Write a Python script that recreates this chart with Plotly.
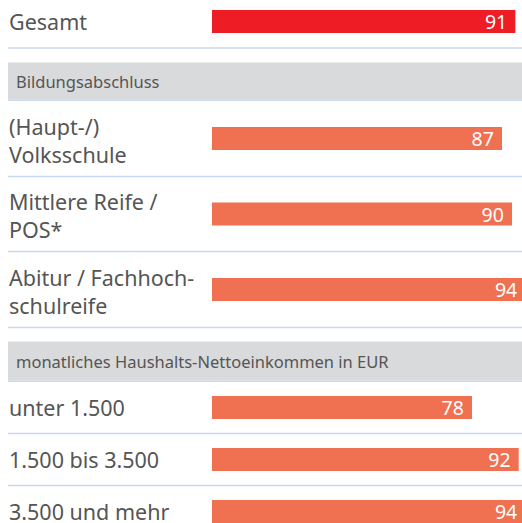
import plotly.graph_objects as go

# ---- data ----
labels_gesamt = ["Gesamt"]
values_gesamt = [91]

header_bildung = "Bildungsabschluss"
labels_bildung = ["(Haupt-/)<br>Volksschule", "Mittlere Reife /<br>POS*", "Abitur / Fachhoch-<br>schulreife"]
values_bildung = [87, 90, 94]

header_einkommen = "monatliches Haushalts-Nettoeinkommen in EUR"
labels_einkommen = ["unter 1.500", "1.500 bis 3.500", "3.500 und mehr"]
values_einkommen = [78, 92, 94]

# ---- layout / style ----
W, H = 522, 523
RED = "#EE1C25"
ORANGE = "#F07052"
TEXT = "#555555"
LINE = "#C9D8F0"
BAND = "#D9DADC"
FONT = "Noto Sans"

left_px = 7
bar_left_px = 212
x_max = 93.0

row_small = 52
bar_h = 23

fig = go.Figure()
shapes = []
annotations = []

def xpaper(px):
    return px / W

y = -5.0
bars = []  # (center, value, color)

def add_row(label, value, color, height, line=True):
    global y
    c = y + height / 2
    bars.append((c, value, color))
    annotations.append(dict(x=xpaper(left_px), y=c + (1.5 if "<br>" in label else 0), xref="paper", yref="y",
                            text=label, showarrow=False, xanchor="left", yanchor="middle", align="left",
                            font=dict(family=FONT, size=21.5, color=TEXT)))
    y += height
    if line:
        shapes.append(dict(type="line", xref="paper", yref="y", x0=xpaper(8), x1=1, y0=y, y1=y,
                           line=dict(color=LINE, width=1.5)))

def add_header(text, gap, height):
    global y
    y += gap
    shapes.append(dict(type="rect", xref="paper", yref="y", x0=xpaper(8), x1=1, y0=y, y1=y + height,
                       fillcolor=BAND, line=dict(width=0), layer="below"))
    annotations.append(dict(x=xpaper(14), y=y + height / 2, xref="paper", yref="y", text=text,
                            showarrow=False, xanchor="left", yanchor="middle",
                            font=dict(family=FONT, size=16.5, color=TEXT)))
    y += height
    shapes.append(dict(type="line", xref="paper", yref="y", x0=xpaper(8), x1=1, y0=y + 0.7, y1=y + 0.7,
                       line=dict(color=LINE, width=1.5)))
    y += 1

add_row(labels_gesamt[0], values_gesamt[0], RED, 53)
add_header(header_bildung, 14.5, 37)
for i, (lab, v) in enumerate(zip(labels_bildung, values_bildung)):
    add_row(lab, v, ORANGE, 76 if i != 1 else 75)
add_header(header_einkommen, 14, 39)
for i, (lab, v) in enumerate(zip(labels_einkommen, values_einkommen)):
    add_row(lab, v, ORANGE, row_small, line=(i < 2))

fig.add_trace(go.Bar(
    orientation="h",
    x=[b[1] for b in bars],
    y=[b[0] for b in bars],
    width=bar_h,
    marker=dict(color=[b[2] for b in bars], line=dict(width=0)),
    text=[str(b[1]) + "\u00a0" for b in bars],
    textposition="inside",
    insidetextanchor="end",
    textangle=0,
    constraintext="none",
    insidetextfont=dict(family=FONT, size=19.5, color="white"),
    hoverinfo="skip",
))

fig.update_layout(
    width=W, height=H,
    margin=dict(l=0, r=0, t=0, b=0),
    paper_bgcolor="white", plot_bgcolor="white",
    showlegend=False,
    xaxis=dict(domain=[bar_left_px / W, 1], range=[0, x_max], visible=False, fixedrange=True),
    yaxis=dict(range=[H, 0], visible=False, fixedrange=True),
    shapes=shapes,
    annotations=annotations,
)

fig.write_html(
    "out.html",
    config={"displayModeBar": False},
    post_script="document.body.style.margin='0';document.body.style.overflow='hidden';",
)
